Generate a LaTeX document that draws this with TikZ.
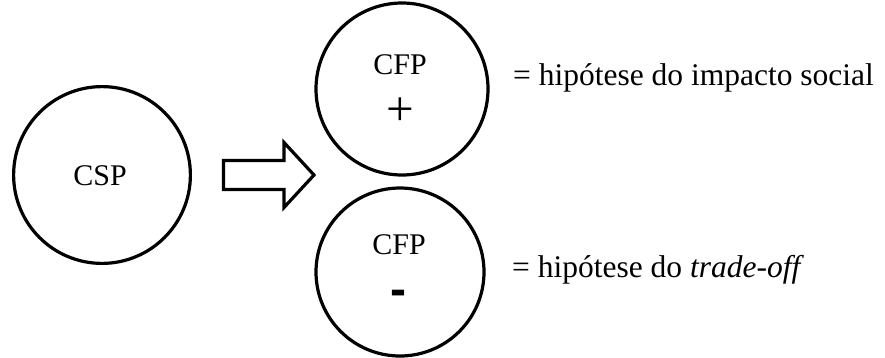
\documentclass[tikz,border=0pt]{standalone}
\usepackage{fontspec}
\setmainfont{Liberation Serif}
\newfontfamily\signfont{Liberation Sans}
\begin{document}
\begin{tikzpicture}[x=1pt,y=-1pt,
  ring/.style={draw=black, line width=3.2pt, circle, inner sep=0pt, minimum size=#1},
  lbl/.style={inner sep=0pt, font=\fontsize{30}{34}\selectfont},
  eqtext/.style={inner sep=0pt, anchor=base west, font=\fontsize{31.5}{36}\selectfont},
  sign/.style={inner sep=0pt}]
\useasboundingbox (0,0) rectangle (885,357);
% circles
\node[ring=176.8pt] (csp) at (102,175) {};
\node[ring=172pt] (cfpp) at (402,89) {};
\node[ring=168pt] (cfpm) at (400,272) {};
% labels
\node[lbl] (tcsp) at (100,176) {CSP};
\node[lbl] (tcfp1) at (400,65) {CFP};
\node[sign, font=\fontsize{49}{52}\selectfont] (plus) at (400,112) {+};
\node[lbl] (tcfp2) at (399,245) {CFP};
\node[sign, font=\signfont\bfseries\fontsize{48}{52}\selectfont] (minus) at (398,298) {-};
% block arrow
\draw[line width=3.2pt, line join=miter] (223.5,160.5) -- (284,160.5) -- (284,142.5) -- (314,175) -- (284,207.5) -- (284,189.5) -- (223.5,189.5) -- cycle;
% texts
\node[eqtext] (t1) at (513,85) {= hipótese do impacto social};
\node[eqtext] (t2) at (512,277) {= hipótese do \textit{trade-off}};
\end{tikzpicture}
\end{document}
